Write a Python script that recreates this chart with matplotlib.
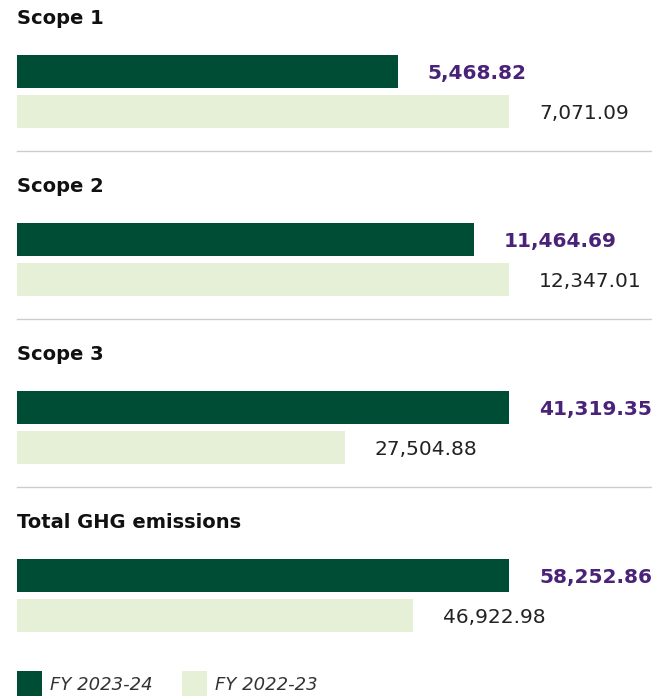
import matplotlib
matplotlib.use('Agg')
import matplotlib.pyplot as plt
from matplotlib.patches import Rectangle
from matplotlib.lines import Line2D

# data
panels = ['Scope 1', 'Scope 2', 'Scope 3', 'Total GHG emissions']
fy2324 = [5468.82, 11464.69, 41319.35, 58252.86]
fy2223 = [7071.09, 12347.01, 27504.88, 46922.98]
series_names = ['FY 2023-24', 'FY 2022-23']

dark_green = '#004d35'
light_green = '#e6f0d6'
purple = '#4a2378'
text_col = '#222222'

plt.rcParams['font.family'] = ['DejaVu Sans']

W, H = 652, 697
fig = plt.figure(figsize=(W/100, H/100), dpi=100)

def fx(px):
	return px / W

def fy(py):
	# py measured from top
	return 1 - py / H

bar_left = 17
bar_right = 509
step = 168

for k, name in enumerate(panels):
	top = 55 + k*step
	ax = fig.add_axes([fx(bar_left), fy(top + 73), fx(bar_right - bar_left), 73/H])
	vmax = max(fy2324[k], fy2223[k])
	ax.barh([0, 1], [fy2324[k], fy2223[k]], height=0.825,
		color=[dark_green, light_green], align='center')
	ax.set_xlim(0, vmax)
	ax.set_ylim(1.4125, -0.4125)
	ax.axis('off')

	ax.annotate(f'{fy2324[k]:,.2f}', xy=(fy2324[k], 0), xytext=(30, -2),
		textcoords='offset pixels', va='center', ha='left', fontsize=14.5,
		fontweight='bold', color=purple, annotation_clip=False)
	ax.annotate(f'{fy2223[k]:,.2f}', xy=(fy2223[k], 1), xytext=(30, -2),
		textcoords='offset pixels', va='center', ha='left', fontsize=14.5,
		color=text_col, annotation_clip=False)

	fig.text(fx(17), fy(18 + k*step), name, fontsize=14, fontweight='bold',
		color='#111111', va='center', ha='left')

	if k < 3:
		yl = fy(151 + k*step)
		fig.add_artist(Line2D([fx(17), 1], [yl, yl], color='#cccccc', lw=1))

# legend
leg_x = [17, 182]
leg_cols = [dark_green, light_green]
for x0, c, lab in zip(leg_x, leg_cols, series_names):
	fig.add_artist(Rectangle((fx(x0), fy(696)), fx(25), 25/H,
		transform=fig.transFigure, color=c, lw=0))
	fig.text(fx(x0 + 33), fy(685), lab, fontsize=13, fontstyle='italic',
		color='#333333', va='center', ha='left')

fig.savefig('out.png', dpi=100)
